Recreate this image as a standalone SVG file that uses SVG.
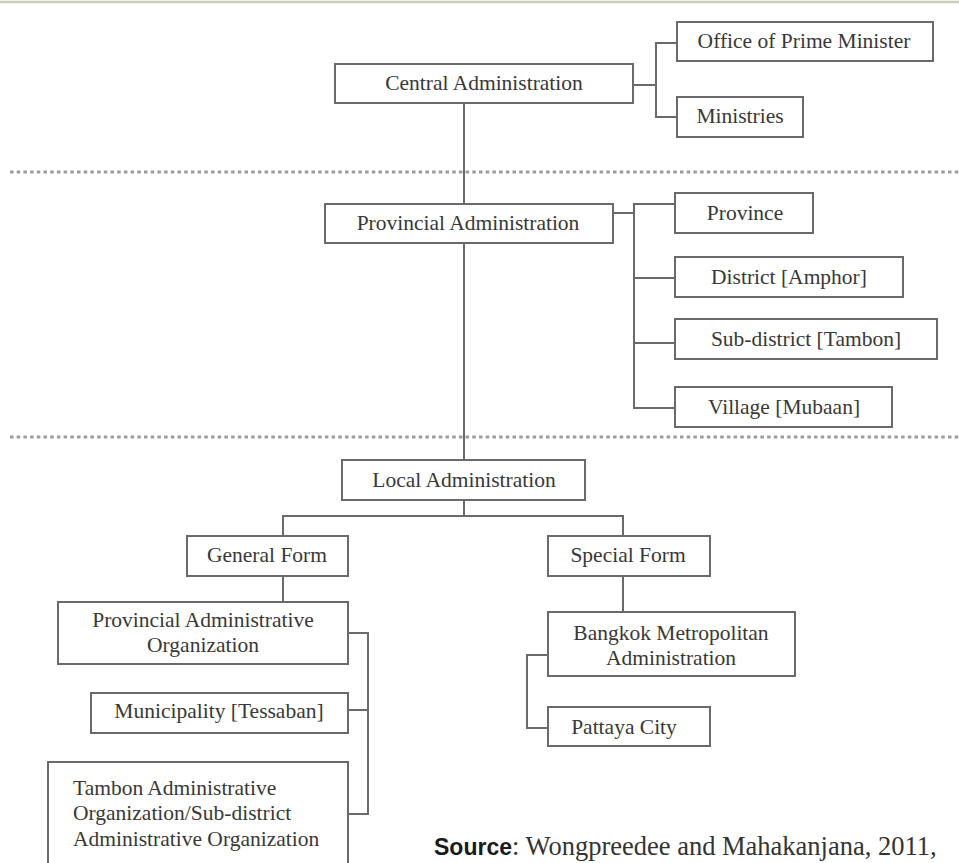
<svg xmlns="http://www.w3.org/2000/svg" width="959" height="863" viewBox="0 0 959 863">
<style>
.box{fill:#fff;stroke:#6a6a6a;stroke-width:2}
.lbl{font-family:"Liberation Serif","Times New Roman",serif;font-size:21.5px;fill:#383838;text-anchor:middle;dominant-baseline:central}
.lft{text-anchor:start}
.con{fill:none;stroke:#6a6a6a;stroke-width:2}
.dot{stroke:#9c9c9c;stroke-width:3;stroke-dasharray:3.5 3.2}
</style>
<rect width="959" height="863" fill="#fff"/>
<line x1="0" y1="2" x2="959" y2="2" stroke="#cdcdb8" stroke-width="2.5"/>
<g id="separators">
<line class="dot" x1="10" y1="172" x2="959" y2="172"/>
<line class="dot" x1="10" y1="437" x2="959" y2="437"/>
</g>
<g id="connectors">
<line class="con" x1="464" y1="103" x2="464" y2="460"/>
<polyline class="con" points="633,85 656,85"/>
<polyline class="con" points="677,43 656,43 656,117 677,117"/>
<polyline class="con" points="613,213 634,213"/>
<polyline class="con" points="675,204 634,204 634,408 675,408"/>
<line class="con" x1="634" y1="278" x2="675" y2="278"/>
<line class="con" x1="634" y1="343" x2="675" y2="343"/>
<line class="con" x1="464" y1="500" x2="464" y2="516"/>
<polyline class="con" points="283,536 283,516 623,516 623,536"/>
<line class="con" x1="283" y1="576" x2="283" y2="602"/>
<line class="con" x1="623" y1="576" x2="623" y2="612"/>
<polyline class="con" points="348,633 368,633 368,814 348,814"/>
<line class="con" x1="348" y1="710" x2="368" y2="710"/>
<polyline class="con" points="548,655 527,655 527,728 548,728"/>
</g>
<g id="central"><rect class="box" x="335" y="64" width="298" height="39"/><text class="lbl" x="484" y="83">Central Administration</text></g>
<g id="office-pm"><rect class="box" x="677" y="22" width="256" height="39"/><text class="lbl" x="804" y="41">Office of Prime Minister</text></g>
<g id="ministries"><rect class="box" x="677" y="97" width="126" height="40"/><text class="lbl" x="740" y="116">Ministries</text></g>
<g id="provincial"><rect class="box" x="325" y="204" width="288" height="39"/><text class="lbl" x="468" y="223">Provincial Administration</text></g>
<g id="province"><rect class="box" x="675" y="193" width="138" height="40"/><text class="lbl" x="745" y="213">Province</text></g>
<g id="district"><rect class="box" x="675" y="257" width="228" height="40"/><text class="lbl" x="789" y="277">District [Amphor]</text></g>
<g id="subdistrict"><rect class="box" x="675" y="319" width="262" height="40"/><text class="lbl" x="806" y="339">Sub-district [Tambon]</text></g>
<g id="village"><rect class="box" x="675" y="387" width="217" height="40"/><text class="lbl" x="784" y="407">Village [Mubaan]</text></g>
<g id="local"><rect class="box" x="342" y="460" width="243" height="40"/><text class="lbl" x="464" y="480">Local Administration</text></g>
<g id="general"><rect class="box" x="187" y="536" width="161" height="40"/><text class="lbl" x="267" y="555">General Form</text></g>
<g id="special"><rect class="box" x="548" y="536" width="162" height="40"/><text class="lbl" x="628" y="555">Special Form</text></g>
<g id="pao"><rect class="box" x="58" y="602" width="290" height="62"/><text class="lbl" x="203" y="620">Provincial Administrative</text><text class="lbl" x="203" y="645">Organization</text></g>
<g id="municipality"><rect class="box" x="91" y="693" width="257" height="40"/><text class="lbl" x="219" y="711">Municipality [Tessaban]</text></g>
<g id="tambon"><rect class="box" x="48" y="762" width="300" height="120"/><text class="lbl lft" x="73" y="788">Tambon Administrative</text><text class="lbl lft" x="73" y="813">Organization/Sub-district</text><text class="lbl lft" x="73" y="839">Administrative Organization</text></g>
<g id="bangkok"><rect class="box" x="548" y="612" width="247" height="64"/><text class="lbl" x="671" y="633">Bangkok Metropolitan</text><text class="lbl" x="671" y="658">Administration</text></g>
<g id="pattaya"><rect class="box" x="548" y="707" width="162" height="39"/><text class="lbl" x="624" y="727">Pattaya City</text></g>
<text x="434" y="855" fill="#1a1a1a"><tspan font-family="'Liberation Sans',Arial,sans-serif" font-weight="bold" font-size="23">Source</tspan><tspan font-family="'Liberation Serif','Times New Roman',serif" font-size="26.5" fill="#333">: Wongpreedee and Mahakanjana, 2011,</tspan></text>
</svg>
